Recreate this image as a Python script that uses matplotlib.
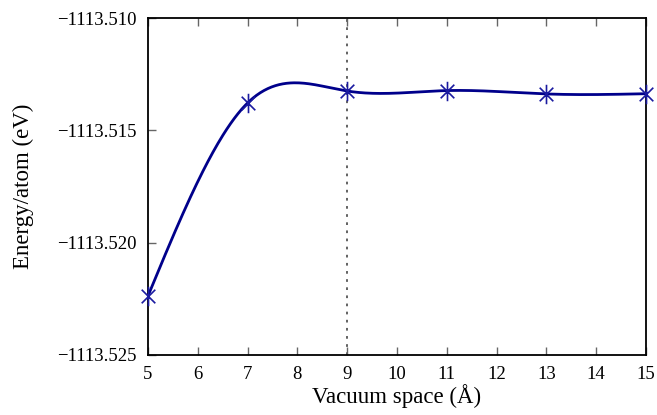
import numpy as np
import matplotlib
matplotlib.use("Agg")
from matplotlib import pyplot as plt
from matplotlib.path import Path

# vacuum spacing (Angstrom) and energy per atom (eV)
vacuum = [5, 7, 9, 11, 13, 15]
energy = [-1113.52237, -1113.51378, -1113.51325, -1113.51323, -1113.51338, -1113.51337]
xticks = list(range(5, 16))
yticks = [-1113.525, -1113.520, -1113.515, -1113.510]
converged = 9


def natural_spline(x, y, xs):
    # natural cubic spline, like gnuplot's "smooth csplines"
    x = np.asarray(x, float)
    y = np.asarray(y, float)
    n = len(x)
    h = np.diff(x)
    A = np.zeros((n, n))
    b = np.zeros(n)
    A[0, 0] = A[-1, -1] = 1
    for i in range(1, n - 1):
        A[i, i - 1] = h[i - 1]
        A[i, i] = 2 * (h[i - 1] + h[i])
        A[i, i + 1] = h[i]
        b[i] = 3 * ((y[i + 1] - y[i]) / h[i] - (y[i] - y[i - 1]) / h[i - 1])
    c = np.linalg.solve(A, b)
    idx = np.clip(np.searchsorted(x, xs) - 1, 0, n - 2)
    dx = xs - x[idx]
    bb = (y[idx + 1] - y[idx]) / h[idx] - h[idx] * (2 * c[idx] + c[idx + 1]) / 3
    d = (c[idx + 1] - c[idx]) / (3 * h[idx])
    return y[idx] + bb * dx + c[idx] * dx ** 2 + d * dx ** 3


# vertical bar + cross, no horizontal arm
star = Path([(0, -1), (0, 1), (-0.7, -0.7), (0.7, 0.7), (-0.7, 0.7), (0.7, -0.7)],
            [Path.MOVETO, Path.LINETO] * 3)

plt.rcParams['font.family'] = ['Liberation Serif', 'DejaVu Serif']
plt.rcParams['font.size'] = 13.5

fig = plt.figure(figsize=(6.57, 4.15), dpi=100)
ax = fig.add_axes([0.2253, 0.1446, 0.7580, 0.8120])

xs = np.linspace(vacuum[0], vacuum[-1], 400)
ax.plot(xs, natural_spline(vacuum, energy, xs), color='#00008b', lw=2)
ax.plot(vacuum, energy, ls='none', marker=star, ms=14, mew=1.2,
        color='#1a1aa0', clip_on=False, zorder=3)
ax.axvline(converged, color='#555555', ls=(0, (1.5, 3)), lw=1.3, zorder=0)

ax.set_xlim(5, 15)
ax.set_ylim(-1113.525, -1113.510)
ax.set_xticks(xticks)
ax.set_yticks(yticks)
ax.set_yticklabels(['\u22121113.525', '\u22121113.520', '\u22121113.515', '\u22121113.510'])
ax.tick_params(direction='in', length=6, width=1, color='#666666', top=True,
               right=False, pad=8)
for s in ax.spines.values():
    s.set_linewidth(1.3)

ax.set_xlabel('Vacuum space (\u00c5)', fontsize=16.5, labelpad=1)
ax.set_ylabel('Energy/atom (eV)', fontsize=16.5, labelpad=17)

fig.savefig('out.png', dpi=100)
